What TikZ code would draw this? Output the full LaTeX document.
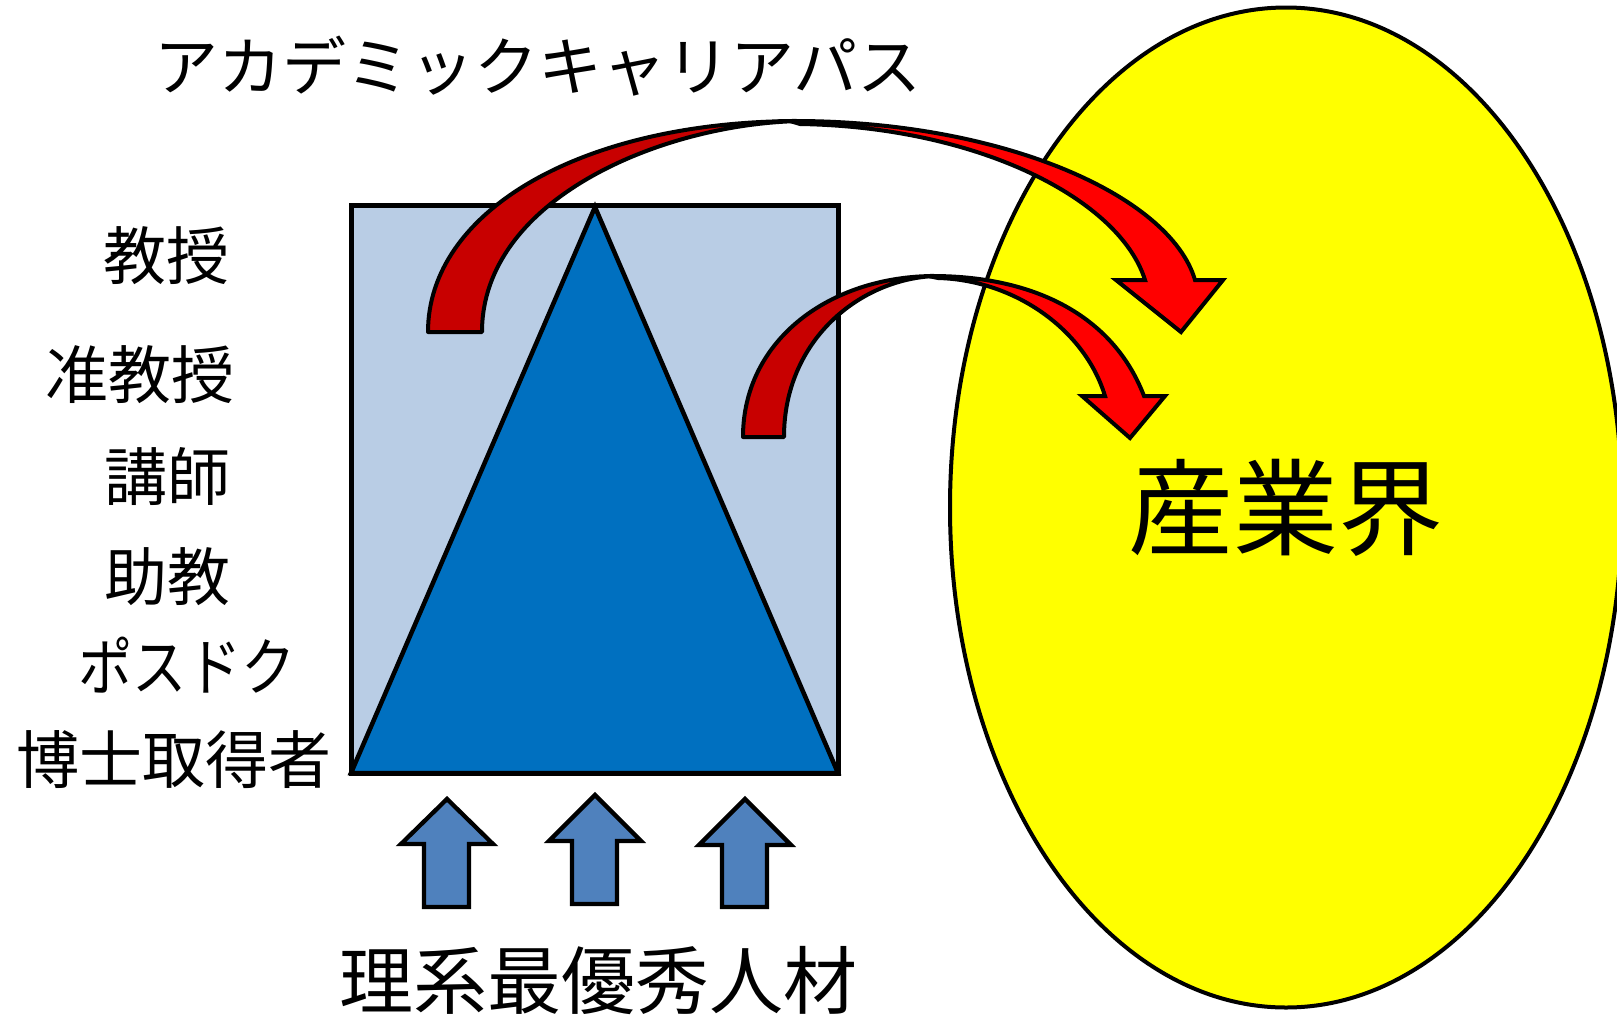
\documentclass[tikz,border=0pt]{standalone}
\usepackage{fontspec}
\usepackage{graphicx}
\newfontfamily\jp{Noto Sans CJK JP}
\usetikzlibrary{shapes.geometric}
\definecolor{boxblue}{RGB}{185,205,229}
\definecolor{triblue}{RGB}{0,112,192}
\definecolor{upblue}{RGB}{79,129,189}
\definecolor{backred}{RGB}{200,0,0}
\definecolor{frontred}{RGB}{255,0,0}
\definecolor{indyellow}{RGB}{255,255,0}
\tikzset{
  lbl/.style={inner sep=0pt, font=\jp\fontsize{63}{63}\selectfont},
  titlelbl/.style={inner sep=0pt, font=\jp\fontsize{64}{64}\selectfont},
  bottomlbl/.style={inner sep=0pt, font=\jp\fontsize{74}{74}\selectfont},
  boxstyle/.style={fill=boxblue, draw=black, line width=5pt},
  tristyle/.style={fill=triblue, draw=black, line width=4.5pt, line join=miter},
  upstyle/.style={fill=upblue, draw=black, line width=4.3pt, line join=miter},
  backpart/.style={fill=backred, draw=black, line width=4pt, line join=round},
  frontpart/.style={fill=frontred, draw=black, line width=4pt, line join=miter},
  industry/.style={ellipse, draw=black, fill=indyellow, line width=4pt, inner sep=0pt,
    minimum width=672pt, minimum height=1000pt, font=\jp\fontsize{105}{105}\selectfont}
}
\begin{document}
\begin{tikzpicture}[x=1pt,y=-1pt]
\useasboundingbox (0,0) rectangle (1617,1015);
% career pyramid
\path[boxstyle] (351,205) rectangle (838,773);
\path[tristyle] (595,207) -- (838,773) -- (351,773) -- cycle;
% industry
\node[industry] (sangyo) at (1286,507.5) {産業界};
% big curved arrow
\path[backpart] (428,332) .. controls (428,212) and (580,121) .. (800,121)
  .. controls (660,124) and (482,200) .. (482,332) -- cycle;
\path[frontpart] (790,121) .. controls (1000,120) and (1170,195) .. (1195,280)
  -- (1223,280) -- (1181,332) -- (1116,280) -- (1145,280)
  .. controls (1120,200) and (980,127) .. (800,124) -- cycle;
% small curved arrow
\path[backpart] (743,437) .. controls (743,340) and (830,276) .. (935,276)
  .. controls (860,279) and (784,340) .. (784,437) -- cycle;
\path[frontpart] (928,276) .. controls (1040,275) and (1115,320) .. (1144,396)
  -- (1165,396) -- (1130,438) -- (1082,396) -- (1105,396)
  .. controls (1085,330) and (1015,280) .. (938,278) -- cycle;
% up arrows
\path[upstyle] (447,799) -- (493,844) -- (469,844) -- (469,907) -- (424,907) -- (424,844) -- (401,844) -- cycle;
\path[upstyle] (595,795) -- (641,841) -- (617,841) -- (617,904) -- (572,904) -- (572,841) -- (549,841) -- cycle;
\path[upstyle] (745,799) -- (791,845) -- (767,845) -- (767,907) -- (722,907) -- (722,845) -- (699,845) -- cycle;
% labels
\node[titlelbl] (title) at (538,66) {アカデミックキャリアパス};
\node[lbl] (kyoju) at (166,256) {教授};
\node[lbl] (junkyoju) at (140,375) {准教授};
\node[lbl] (koshi) at (167,477) {講師};
\node[lbl] (jokyo) at (167,577) {助教};
\node[lbl] (posdoc) at (187,665) {\scalebox{0.86}[1]{ポスドク}};
\node[lbl] (hakase) at (174,760) {博士取得者};
\node[bottomlbl] (jinzai) at (598,981) {理系最優秀人材};
\end{tikzpicture}
\end{document}
